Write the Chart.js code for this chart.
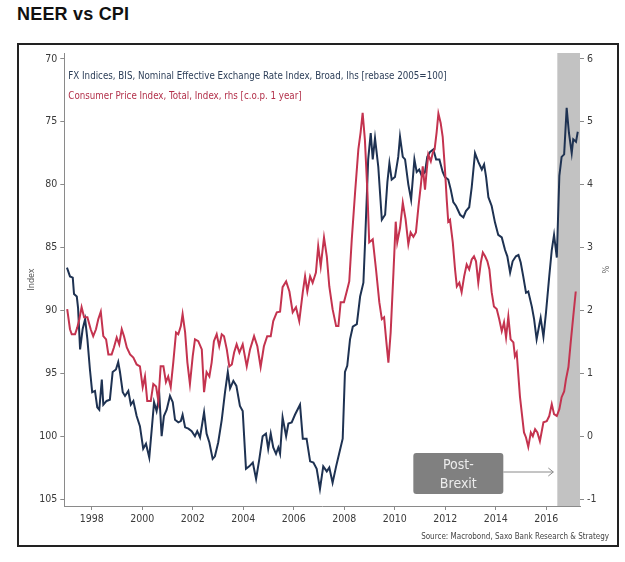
<!DOCTYPE html>
<html>
<head>
<meta charset="utf-8">
<script src="https://cdn.jsdelivr.net/npm/chart.js@4.4.1/dist/chart.umd.min.js"></script>
<style>
html,body{margin:0;padding:0;background:#fff;}
#wrap{position:relative;width:625px;height:562px;overflow:hidden;background:#fff;}
#title{position:absolute;left:17px;top:4px;font:bold 18px "Liberation Sans",Arial,sans-serif;color:#111;letter-spacing:0.2px;}
#frame{position:absolute;left:17px;top:43px;width:602px;height:504px;border:2px solid #222;box-sizing:border-box;}
#c{position:absolute;left:0;top:0;}
</style>
</head>
<body>
<div id="wrap">
  <div id="title">NEER vs CPI</div>
  <div id="frame"></div>
  <canvas id="c" width="625" height="562"></canvas>
</div>
<script>
// ---- Data (decimal years) ----
const neerDates = [1997.02,1997.14,1997.25,1997.30,1997.41,1997.46,1997.54,1997.64,1997.74,1997.83,1997.93,1998.02,1998.13,1998.22,1998.30,1998.40,1998.46,1998.59,1998.72,1998.83,1998.96,1999.05,1999.12,1999.23,1999.32,1999.45,1999.55,1999.65,1999.78,1999.91,2000.04,2000.15,2000.28,2000.38,2000.47,2000.57,2000.68,2000.77,2000.86,2000.97,2001.10,2001.21,2001.30,2001.43,2001.53,2001.60,2001.70,2001.83,2001.96,2002.09,2002.18,2002.29,2002.45,2002.55,2002.66,2002.79,2002.88,2003.01,2003.15,2003.28,2003.39,2003.48,2003.61,2003.73,2003.87,2003.98,2004.11,2004.24,2004.38,2004.51,2004.64,2004.77,2004.90,2004.99,2005.09,2005.19,2005.30,2005.39,2005.46,2005.56,2005.70,2005.79,2005.92,2006.05,2006.25,2006.36,2006.51,2006.65,2006.78,2006.91,2007.04,2007.17,2007.31,2007.41,2007.54,2007.68,2007.81,2007.94,2008.03,2008.12,2008.23,2008.34,2008.50,2008.63,2008.76,2008.82,2008.89,2008.95,2009.05,2009.13,2009.22,2009.35,2009.49,2009.62,2009.71,2009.79,2009.88,2010.01,2010.14,2010.21,2010.32,2010.41,2010.54,2010.65,2010.78,2010.87,2010.97,2011.07,2011.20,2011.29,2011.40,2011.53,2011.64,2011.77,2011.90,2011.99,2012.12,2012.22,2012.32,2012.43,2012.59,2012.72,2012.82,2012.95,2013.05,2013.18,2013.31,2013.45,2013.54,2013.62,2013.71,2013.84,2013.97,2014.10,2014.24,2014.37,2014.46,2014.57,2014.67,2014.80,2014.90,2014.99,2015.09,2015.20,2015.29,2015.43,2015.52,2015.62,2015.73,2015.78,2015.89,2015.99,2016.12,2016.22,2016.31,2016.42,2016.52,2016.61,2016.71,2016.81,2016.90,2017.01,2017.07,2017.18,2017.25];
const neerValues = [86.6,87.3,87.4,88.7,88.9,89.8,93.1,91.5,90.7,92.3,94.7,96.5,96.4,97.7,97.9,95.5,97.5,97.2,97.1,94.9,94.7,94.1,94.9,96.5,96.8,96.4,97.5,97.2,98.4,99.2,101.0,100.6,101.7,99.4,97.3,98.0,96.8,100.0,98.4,97.9,96.8,97.3,98.7,98.9,98.8,98.3,99.3,99.4,99.6,100.0,99.6,100.1,98.1,99.8,100.5,101.8,101.6,100.5,98.7,96.5,94.9,96.2,95.6,96.0,97.6,98.0,102.6,102.4,102.1,103.4,101.8,100.0,99.8,101.0,99.8,100.9,101.4,100.9,101.4,98.5,100.0,99.0,98.9,98.3,97.5,100.2,100.2,102.0,102.1,102.6,104.2,102.4,102.8,102.5,103.7,102.4,101.3,100.2,94.9,94.4,92.3,91.3,91.1,88.9,87.8,84.9,81.2,78.0,75.9,78.0,76.3,78.6,82.8,82.4,79.8,78.3,79.6,79.4,77.8,76.2,77.8,78.0,80.0,81.2,78.0,79.0,78.8,79.3,79.0,77.8,77.4,77.2,78.0,78.0,79.0,79.4,79.6,80.4,81.4,81.7,82.4,82.6,82.1,81.8,80.2,77.5,78.2,78.8,78.4,79.4,81.0,81.7,83.0,84.0,84.2,85.2,85.7,87.0,86.1,85.7,85.6,86.2,87.3,88.6,88.5,89.7,90.7,92.3,91.1,90.6,92.1,90.2,87.3,85.2,84.0,85.8,79.3,77.8,77.6,73.9,75.9,77.5,76.4,76.6,75.8];

const cpiDates = [1997.03,1997.14,1997.21,1997.34,1997.43,1997.51,1997.60,1997.70,1997.83,1997.96,1998.06,1998.17,1998.26,1998.36,1998.46,1998.57,1998.66,1998.79,1998.88,1998.99,1999.09,1999.19,1999.28,1999.39,1999.52,1999.65,1999.78,1999.91,2000.02,2000.11,2000.20,2000.34,2000.44,2000.55,2000.64,2000.73,2000.84,2000.94,2001.03,2001.13,2001.23,2001.34,2001.43,2001.53,2001.60,2001.70,2001.79,2001.89,2002.00,2002.09,2002.22,2002.36,2002.45,2002.55,2002.66,2002.75,2002.84,2002.95,2003.05,2003.15,2003.24,2003.35,2003.45,2003.55,2003.64,2003.74,2003.85,2003.98,2004.14,2004.27,2004.43,2004.56,2004.69,2004.82,2004.95,2005.09,2005.19,2005.33,2005.46,2005.56,2005.70,2005.83,2005.96,2006.09,2006.22,2006.36,2006.45,2006.54,2006.65,2006.75,2006.88,2006.97,2007.07,2007.20,2007.31,2007.41,2007.54,2007.68,2007.77,2007.86,2007.99,2008.10,2008.20,2008.30,2008.43,2008.56,2008.65,2008.73,2008.82,2008.92,2008.99,2009.13,2009.26,2009.39,2009.49,2009.58,2009.66,2009.75,2009.84,2009.95,2010.04,2010.10,2010.21,2010.32,2010.43,2010.54,2010.63,2010.74,2010.84,2010.94,2011.03,2011.11,2011.20,2011.27,2011.33,2011.43,2011.51,2011.58,2011.66,2011.73,2011.82,2011.90,2011.99,2012.06,2012.12,2012.19,2012.30,2012.39,2012.46,2012.56,2012.65,2012.75,2012.85,2012.95,2013.05,2013.14,2013.22,2013.31,2013.41,2013.49,2013.58,2013.67,2013.75,2013.84,2013.93,2014.04,2014.14,2014.24,2014.33,2014.41,2014.50,2014.59,2014.70,2014.76,2014.83,2014.90,2014.96,2015.03,2015.12,2015.20,2015.29,2015.39,2015.47,2015.56,2015.65,2015.75,2015.89,2016.02,2016.12,2016.22,2016.31,2016.42,2016.52,2016.61,2016.71,2016.78,2016.88,2016.97,2017.07,2017.17];
const cpiValues = [2.02,1.70,1.62,1.62,1.73,1.86,2.05,1.89,1.89,1.70,1.59,1.70,1.86,1.98,1.59,1.54,1.30,1.30,1.41,1.57,1.46,1.70,1.59,1.41,1.30,1.25,1.14,1.11,0.78,0.95,0.56,0.56,0.83,0.79,0.56,1.11,1.11,0.86,0.95,0.78,1.17,1.65,1.62,1.75,1.94,1.65,1.17,0.83,1.27,1.54,1.51,1.38,0.70,1.02,0.95,1.17,1.51,1.62,1.43,1.62,1.59,1.38,1.11,1.14,1.33,1.46,1.33,1.46,1.11,1.38,1.59,1.43,1.10,1.43,1.59,1.59,1.83,1.97,1.98,2.37,2.46,2.30,1.97,2.05,1.83,2.29,2.54,2.30,2.54,2.44,2.60,3.02,2.70,3.16,2.86,2.38,2.02,1.75,1.75,2.13,2.13,2.30,2.46,3.13,3.87,4.56,4.83,5.14,4.71,3.87,3.08,3.13,2.65,2.13,1.86,1.89,1.54,1.17,1.65,2.60,3.41,3.08,3.31,3.71,3.45,3.05,3.24,3.17,3.24,3.65,3.97,4.29,3.92,4.24,4.48,4.37,4.51,4.56,4.83,5.13,4.98,4.76,4.24,3.76,3.41,3.44,3.08,2.65,2.38,2.44,2.29,2.54,2.73,2.65,2.81,2.86,2.78,2.44,2.76,2.92,2.86,2.78,2.65,2.29,2.06,2.02,1.86,1.67,1.81,1.57,1.90,1.54,1.49,1.27,1.33,0.95,0.63,0.38,0.06,-0.02,-0.17,0.06,0.00,0.11,0.06,-0.08,0.22,0.24,0.32,0.51,0.35,0.32,0.43,0.62,0.71,0.90,1.10,1.49,1.90,2.30];

const yearTicks = [1998,2000,2002,2004,2006,2008,2010,2012,2014,2016];
const indexTicks = [70,75,80,85,90,95,100,105];
const pctTicks = [-1,0,1,2,3,4,5,6];
const postBrexitStart = 2016.44;

const seriesNames = [
  'FX Indices, BIS, Nominal Effective Exchange Rate Index, Broad, lhs [rebase 2005=100]',
  'Consumer Price Index, Total, Index, rhs [c.o.p. 1 year]'
];
const sourceText = 'Source: Macrobond, Saxo Bank Research & Strategy';

// ---- Styling ----
const NAVY = '#1e3252';
const RED = '#c4334f';
const FONT = '"DejaVu Sans Condensed","DejaVu Sans","Liberation Sans",sans-serif';
const TICKCOL = '#3a3a3a';
const AXISCOL = '#8a8a8a';

const X_MIN = 1996.915, X_MAX = 2017.338;
const L_MIN = 69.54, L_MAX = 105.55;
const R_MAX = 6 - (L_MIN - 70) / 5, R_MIN = 6 - (L_MAX - 70) / 5;

const decor = {
  id: 'decor',
  beforeDatasetsDraw(chart) {
    const {ctx, chartArea: a, scales: {x}} = chart;
    const xs = x.getPixelForValue(postBrexitStart);
    ctx.save();
    ctx.fillStyle = '#c2c2c2';
    ctx.fillRect(xs, a.top, a.right - xs, a.bottom - a.top);
    ctx.restore();
  },
  afterDatasetsDraw(chart) {
    const {ctx, chartArea: a, scales: {x}} = chart;
    ctx.save();
    // series legend text
    ctx.textAlign = 'left';
    ctx.textBaseline = 'middle';
    ctx.font = '9.7px ' + FONT;
    ctx.fillStyle = '#2c3e58';
    ctx.fillText(seriesNames[0], a.left + 4, a.top + 23);
    ctx.fillStyle = '#b2304a';
    ctx.fillText(seriesNames[1], a.left + 4, a.top + 43);

    // axis titles
    ctx.fillStyle = '#555';
    ctx.font = '9px ' + FONT;
    ctx.save();
    ctx.translate(32, (a.top + a.bottom) / 2);
    ctx.rotate(-Math.PI / 2);
    ctx.textAlign = 'center';
    ctx.fillText('Index', 0, 0);
    ctx.restore();
    ctx.save();
    ctx.translate(604, (a.top + a.bottom) / 2 - 10);
    ctx.rotate(Math.PI / 2);
    ctx.textAlign = 'center';
    ctx.fillText('%', 0, 0);
    ctx.restore();

    // Post-Brexit annotation
    const xs = x.getPixelForValue(postBrexitStart);
    const bx = xs - 144, by = a.bottom - 53, bw = 90, bh = 41;
    ctx.fillStyle = '#808080';
    ctx.beginPath();
    ctx.roundRect(bx, by, bw, bh, 3);
    ctx.fill();
    ctx.fillStyle = '#ececec';
    ctx.font = '14px ' + FONT;
    ctx.textAlign = 'center';
    ctx.fillText('Post-', bx + bw / 2, by + 12);
    ctx.fillText('Brexit', bx + bw / 2, by + 31);
    // arrow
    const ay = by + 19;
    ctx.strokeStyle = '#8a8a8a';
    ctx.lineWidth = 1;
    ctx.beginPath();
    ctx.moveTo(bx + bw, ay);
    ctx.lineTo(xs - 4, ay);
    ctx.moveTo(xs - 9, ay - 4);
    ctx.lineTo(xs - 4, ay);
    ctx.lineTo(xs - 9, ay + 4);
    ctx.stroke();

    // source
    ctx.fillStyle = '#444';
    ctx.font = '8px ' + FONT;
    ctx.textAlign = 'right';
    ctx.fillText(sourceText, 609, 537);
    ctx.restore();
  }
};

new Chart(document.getElementById('c'), {
  type: 'line',
  data: {
    datasets: [
      {
        label: 'CPI',
        data: cpiDates.map((d, i) => ({x: d, y: cpiValues[i]})),
        yAxisID: 'yR',
        borderColor: RED,
        borderWidth: 2,
        pointRadius: 0,
        tension: 0,
        fill: false
      },
      {
        label: 'NEER',
        data: neerDates.map((d, i) => ({x: d, y: neerValues[i]})),
        yAxisID: 'yL',
        borderColor: NAVY,
        borderWidth: 2,
        pointRadius: 0,
        tension: 0,
        fill: false
      }
    ]
  },
  options: {
    responsive: false,
    animation: false,
    devicePixelRatio: 1,
    layout: {padding: {top: 53, left: 0, right: 0, bottom: 0}},
    plugins: {legend: {display: false}, tooltip: {enabled: false}, title: {display: false}},
    scales: {
      x: {
        type: 'linear',
        min: X_MIN, max: X_MAX,
        afterBuildTicks: (s) => { s.ticks = yearTicks.map(v => ({value: v})); },
        afterFit: (s) => { s.height = 56; },
        ticks: {autoSkip: false, maxRotation: 0, padding: 3, color: TICKCOL,
                font: {family: FONT, size: 10.5}, callback: (v) => String(v)},
        grid: {drawOnChartArea: false, drawTicks: true, tickLength: 4, color: AXISCOL},
        border: {display: true, color: AXISCOL, width: 1}
      },
      yL: {
        type: 'linear', position: 'left', reverse: true,
        min: L_MIN, max: L_MAX,
        afterBuildTicks: (s) => { s.ticks = indexTicks.map(v => ({value: v})); },
        afterFit: (s) => { s.width = 64.3; },
        ticks: {padding: 3, color: TICKCOL, font: {family: FONT, size: 10.5}},
        grid: {drawOnChartArea: false, drawTicks: true, tickLength: 4, color: AXISCOL},
        border: {display: true, color: AXISCOL, width: 1}
      },
      yR: {
        type: 'linear', position: 'right',
        min: R_MIN, max: R_MAX,
        afterBuildTicks: (s) => { s.ticks = pctTicks.map(v => ({value: v})); },
        afterFit: (s) => { s.width = 45; },
        ticks: {padding: 3, color: TICKCOL, font: {family: FONT, size: 10.5}},
        grid: {drawOnChartArea: false, drawTicks: true, tickLength: 4, color: AXISCOL},
        border: {display: false}
      }
    }
  },
  plugins: [decor]
});
</script>
</body>
</html>
